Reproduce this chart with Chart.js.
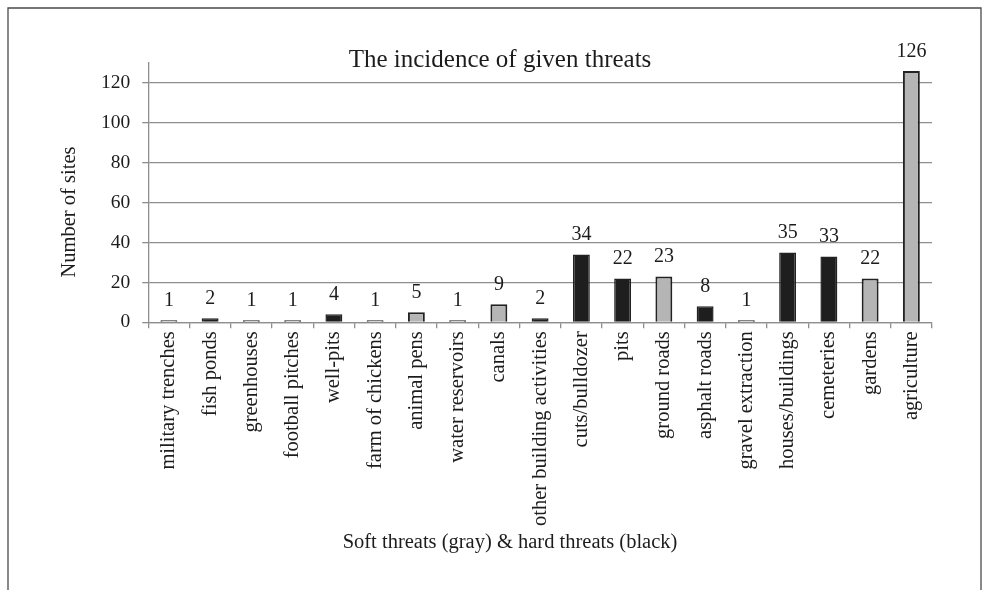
<!DOCTYPE html>
<html>
<head>
<meta charset="utf-8">
<title>The incidence of given threats</title>
<script src="https://cdn.jsdelivr.net/npm/chart.js@4/dist/chart.umd.min.js"></script>
<style>
  html, body { margin: 0; padding: 0; background: #ffffff; }
  #wrap { position: relative; width: 989px; height: 590px; }
</style>
</head>
<body>
<div id="wrap"><canvas id="chart" width="989" height="590"></canvas></div>
<script>
// Threat categories along the x axis
const categories = [
  'military trenches', 'fish ponds', 'greenhouses', 'football pitches', 'well-pits',
  'farm of chickens', 'animal pens', 'water reservoirs', 'canals', 'other building activities',
  'cuts/bulldozer', 'pits', 'ground roads', 'asphalt roads', 'gravel extraction',
  'houses/buildings', 'cemeteries', 'gardens', 'agriculture'
];

// Number of sites affected by each threat
const siteCounts = [1, 2, 1, 1, 4, 1, 5, 1, 9, 2, 34, 22, 23, 8, 1, 35, 33, 22, 126];

// Soft threats are drawn gray, hard threats black
const threatKind = [
  'soft', 'hard', 'soft', 'soft', 'hard', 'soft', 'soft', 'soft', 'soft', 'hard',
  'hard', 'hard', 'soft', 'hard', 'soft', 'hard', 'hard', 'soft', 'soft'
];

// Y axis tick values
const yTicks = [0, 20, 40, 60, 80, 100, 120];

const SERIF = '"Liberation Serif", "Times New Roman", serif';
const TEXT = '#1c1c1c';
const GRID = '#8e8e8e';
const fillFor = k => (k === 'soft' ? '#b5b5b5' : '#1e1e1e');

// Outer frame around the figure
const framePlugin = {
  id: 'frame',
  beforeDraw(chart) {
    const ctx = chart.ctx;
    ctx.save();
    ctx.strokeStyle = '#4a4a4a';
    ctx.lineWidth = 1.3;
    ctx.beginPath();
    ctx.moveTo(8, 600);
    ctx.lineTo(8, 8);
    ctx.lineTo(981, 8);
    ctx.lineTo(981, 600);
    ctx.stroke();
    ctx.restore();
  }
};

// Chart title and axis titles, placed over the figure
const titles = {
  id: 'titles',
  afterDraw(chart) {
    const ctx = chart.ctx;
    ctx.save();
    ctx.fillStyle = TEXT;
    ctx.textAlign = 'center';
    ctx.textBaseline = 'middle';
    ctx.font = '25px ' + SERIF;
    ctx.fillText('The incidence of given threats', 500, 60);
    ctx.font = '20.5px ' + SERIF;
    ctx.fillText('Soft threats (gray) & hard threats (black)', 510, 543);
    ctx.translate(70, 212);
    ctx.rotate(-Math.PI / 2);
    ctx.fillText('Number of sites', 0, 0);
    ctx.restore();
  }
};

// Count written above each bar
const valueLabels = {
  id: 'valueLabels',
  afterDatasetsDraw(chart) {
    const ctx = chart.ctx;
    const meta = chart.getDatasetMeta(0);
    ctx.save();
    ctx.font = '20px ' + SERIF;
    ctx.fillStyle = TEXT;
    ctx.textAlign = 'center';
    ctx.textBaseline = 'alphabetic';
    meta.data.forEach((bar, i) => {
      ctx.fillText(String(siteCounts[i]), bar.x, bar.y - 14);
    });
    ctx.restore();
  }
};

new Chart(document.getElementById('chart'), {
  type: 'bar',
  data: {
    labels: categories,
    datasets: [{
      data: siteCounts,
      backgroundColor: threatKind.map(fillFor),
      borderColor: '#222222',
      borderWidth: threatKind.map(k => (k === 'soft' ? 2 : 1.5)),
      barPercentage: 0.41,
      categoryPercentage: 1.0
    }]
  },
  options: {
    responsive: false,
    animation: false,
    devicePixelRatio: 1,
    layout: { padding: { left: 89, right: 57, top: 63, bottom: 61 } },
    plugins: {
      legend: { display: false },
      tooltip: { enabled: false },
      title: { display: false }
    },
    scales: {
      x: {
        offset: true,
        grid: { display: true, drawOnChartArea: false, drawTicks: true, tickLength: 6, color: GRID, lineWidth: 1.3 },
        border: { display: true, color: GRID, width: 1.3 },
        ticks: {
          autoSkip: false, minRotation: 90, maxRotation: 90, padding: 3,
          color: TEXT, font: { family: SERIF, size: 20.5 }
        }
      },
      y: {
        min: 0,
        max: 130,
        afterBuildTicks(axis) {
          axis.ticks = yTicks.map(v => ({ value: v }));
        },
        grid: { color: GRID, lineWidth: 1.3, tickLength: 6 },
        border: { display: true, color: GRID, width: 1.3 },
        ticks: { padding: 12, color: TEXT, font: { family: SERIF, size: 19.5 } }
      }
    }
  },
  plugins: [framePlugin, titles, valueLabels]
});
</script>
</body>
</html>
